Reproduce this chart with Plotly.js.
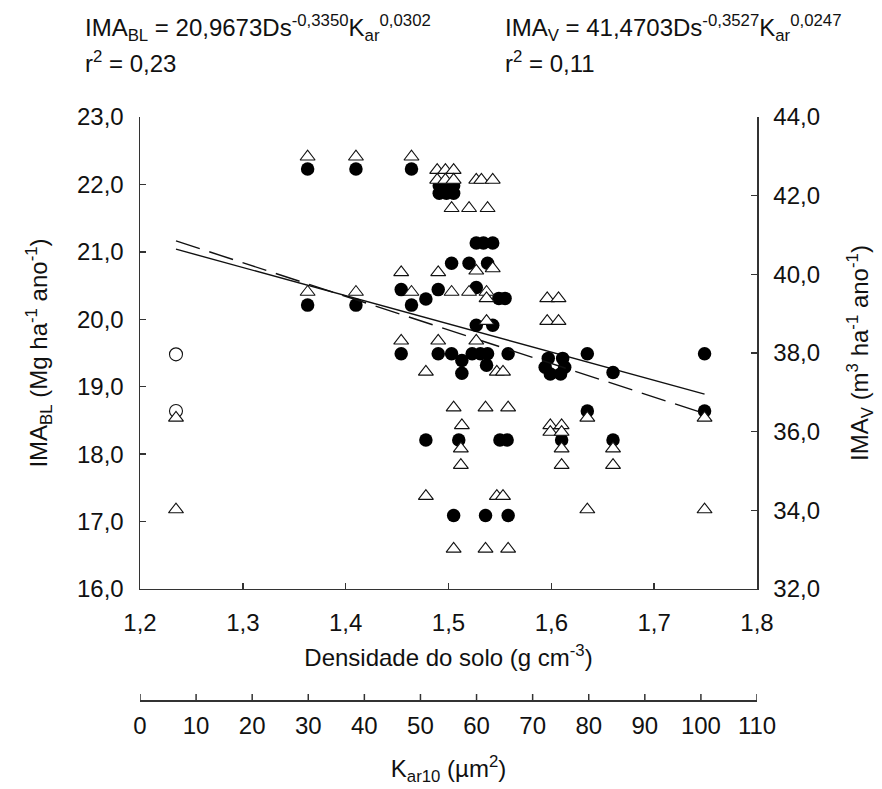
<!DOCTYPE html>
<html>
<head>
<meta charset="utf-8">
<script src="https://cdn.plot.ly/plotly-3.0.1.min.js"></script>
<style>
html,body{margin:0;padding:0;background:#ffffff;}
#chart{width:882px;height:789px;}
</style>
</head>
<body>
<div id="chart"></div>
<script>
// ---------- data ----------
// IMA_BL (Mg ha-1 ano-1), filled circles, left axis
const blDensity = [
  1.363, 1.410, 1.464,
  1.491, 1.498, 1.505, 1.491, 1.498, 1.505,
  1.503, 1.520, 1.538,
  1.527, 1.534, 1.543,
  1.454, 1.490, 1.527,
  1.478,
  1.549, 1.555,
  1.363, 1.410, 1.464,
  1.527, 1.543,
  1.454, 1.490, 1.503, 1.523, 1.531, 1.538, 1.558, 1.635, 1.749,
  1.513, 1.537, 1.513,
  1.597, 1.611, 1.594, 1.613, 1.599, 1.609,
  1.660,
  1.635, 1.749,
  1.478, 1.510, 1.550, 1.557, 1.610, 1.660,
  1.505, 1.536, 1.558
];
const blIMA = [
  22.23, 22.23, 22.23,
  21.98, 21.98, 21.98, 21.87, 21.87, 21.87,
  20.83, 20.83, 20.83,
  21.13, 21.13, 21.13,
  20.44, 20.44, 20.47,
  20.30,
  20.31, 20.31,
  20.21, 20.21, 20.21,
  19.91, 19.91,
  19.49, 19.49, 19.49, 19.49, 19.49, 19.49, 19.49, 19.49, 19.49,
  19.39, 19.32, 19.20,
  19.42, 19.42, 19.29, 19.29, 19.19, 19.19,
  19.21,
  18.64, 18.64,
  18.21, 18.21, 18.21, 18.21, 18.21, 18.21,
  17.09, 17.09, 17.09
];
// open circles (left axis)
const openDensity = [1.235, 1.235];
const openIMA = [19.48, 18.64];

// IMA_V (m3 ha-1 ano-1), open triangles, right axis
const vDensity = [
  1.363, 1.410, 1.464,
  1.489, 1.497, 1.505,
  1.489, 1.497, 1.505, 1.527, 1.532, 1.543,
  1.503, 1.520, 1.538,
  1.454, 1.490, 1.527, 1.543,
  1.363, 1.410, 1.464, 1.503, 1.520, 1.537,
  1.537, 1.596, 1.607,
  1.537, 1.596, 1.607,
  1.454, 1.490, 1.527,
  1.478, 1.547, 1.553,
  1.505, 1.536, 1.558,
  1.235, 1.635, 1.749,
  1.513, 1.599, 1.610,
  1.599, 1.610,
  1.512, 1.610, 1.660,
  1.512, 1.610, 1.660,
  1.478, 1.547, 1.553,
  1.235, 1.635, 1.749,
  1.505, 1.536, 1.558
];
const vIMA = [
  42.99, 42.99, 42.99,
  42.65, 42.65, 42.65,
  42.40, 42.40, 42.40, 42.40, 42.40, 42.40,
  41.68, 41.68, 41.68,
  40.05, 40.05, 40.09, 40.15,
  39.55, 39.55, 39.55, 39.55, 39.55, 39.55,
  39.39, 39.39, 39.39,
  38.81, 38.81, 38.81,
  38.31, 38.31, 38.31,
  37.52, 37.52, 37.52,
  36.61, 36.61, 36.61,
  36.35, 36.35, 36.35,
  36.16, 36.16, 36.16,
  35.99, 35.99,
  35.57, 35.57, 35.57,
  35.15, 35.15, 35.15,
  34.36, 34.36, 34.36,
  34.02, 34.02, 34.02,
  33.02, 33.02, 33.02
];

// fitted curves
const fitDensity = [1.235, 1.749];
const fitBL = [21.04, 18.89];
const fitV = [40.85, 36.46];

// axis ticks
const densityTicks = [1.2, 1.3, 1.4, 1.5, 1.6, 1.7, 1.8];
const karTicks = [0, 10, 20, 30, 40, 50, 60, 70, 80, 90, 100, 110];
const leftTicks = [16, 17, 18, 19, 20, 21, 22, 23];
const rightTicks = [32, 34, 36, 38, 40, 42, 44];

// text
const eqBL = 'IMA<sub>BL</sub> = 20,9673Ds<sup>-0,3350</sup>K<sub>ar</sub><sup>0,0302</sup>';
const r2BL = 'r<sup>2</sup> = 0,23';
const eqV = 'IMA<sub>V</sub> = 41,4703Ds<sup>-0,3527</sup>K<sub>ar</sub><sup>0,0247</sup>';
const r2V = 'r<sup>2</sup> = 0,11';

// ---------- chart ----------
const AX = '#333333';
const FONT = 'Liberation Sans, Arial, sans-serif';
const TXT = {family: FONT, size: 24, color: '#111'};

const traces = [
  {x: fitDensity, y: fitBL, xaxis: 'x', yaxis: 'y', mode: 'lines',
   line: {color: '#111', width: 1.4}, hoverinfo: 'skip', name: 'ajuste IMA_BL'},
  {x: fitDensity, y: fitV, xaxis: 'x', yaxis: 'y2', mode: 'lines',
   line: {color: '#111', width: 1.4, dash: '25px,10px'}, hoverinfo: 'skip', name: 'ajuste IMA_V'},
  {x: blDensity, y: blIMA, xaxis: 'x', yaxis: 'y', mode: 'markers', name: 'IMA_BL',
   marker: {symbol: 'circle', size: 13.5, color: '#000', line: {width: 0}}},
  {x: openDensity, y: openIMA, xaxis: 'x', yaxis: 'y', mode: 'markers', name: 'IMA_BL (aberto)',
   marker: {symbol: 'circle', size: 13, color: '#fff', line: {color: '#111', width: 1.1}}},
  {x: vDensity, y: vIMA, xaxis: 'x', yaxis: 'y2', mode: 'markers', name: 'IMA_V',
   marker: {symbol: 'triangle-up', size: 13, color: '#fff', line: {color: '#111', width: 1.1}}},
  {x: [karTicks[0], karTicks[karTicks.length - 1]], y: [null, null], xaxis: 'x2', yaxis: 'y',
   mode: 'markers', hoverinfo: 'skip', showlegend: false, name: 'Kar'}
];

const axisCommon = {
  showgrid: false, zeroline: false, showline: true, linecolor: AX, linewidth: 1.5,
  ticks: 'inside', ticklen: 6, tickwidth: 1.5, tickcolor: AX,
  tickfont: TXT, automargin: false
};

const layout = {
  width: 882, height: 789,
  margin: {l: 140, r: 125, t: 117, b: 89, pad: 0},
  paper_bgcolor: '#fff', plot_bgcolor: '#fff',
  separators: ', ',
  showlegend: false,
  font: TXT,
  xaxis: Object.assign({}, axisCommon, {
    range: [1.2, 1.8], tickvals: densityTicks, tickformat: '.1f', anchor: 'y',
    ticklabelstandoff: 12,
    title: {text: 'Densidade do solo (g cm<sup>-3</sup>)', font: TXT, standoff: 14}
  }),
  xaxis2: Object.assign({}, axisCommon, {
    range: [0, 110], tickvals: karTicks, tickformat: 'd', overlaying: 'x', anchor: 'free', position: 0, side: 'bottom',
    ticks: 'outside', ticklen: 0,
    ticklabelstandoff: 4,
    title: {text: 'K<sub>ar10</sub> (µm<sup>2</sup>)', font: TXT, standoff: 22}
  }),
  yaxis: Object.assign({}, axisCommon, {
    domain: [0.1904, 1], range: [16, 23], tickvals: leftTicks, tickformat: '.1f', anchor: 'x',
    ticklabelstandoff: 10,
    title: {text: 'IMA<sub>BL</sub> (Mg ha<sup>-1</sup> ano<sup>-1</sup>)', font: TXT, standoff: 22}
  }),
  yaxis2: Object.assign({}, axisCommon, {
    range: [32, 44], tickvals: rightTicks, tickformat: '.1f', overlaying: 'y', side: 'right', anchor: 'x',
    ticklabelstandoff: 10,
    title: {text: 'IMA<sub>V</sub> (m<sup>3</sup> ha<sup>-1</sup> ano<sup>-1</sup>)', font: TXT, standoff: 32}
  }),
  shapes: karTicks.map(function (k) {
    return {type: 'line', xref: 'x2', yref: 'paper', x0: k, x1: k, y0: 0, y1: 0.0103,
            line: {color: AX, width: 1.5}};
  }),
  annotations: [
    {text: eqBL, xref: 'paper', yref: 'paper', x: -0.0924, y: 1.1527, xanchor: 'left', yanchor: 'middle', showarrow: false, font: TXT},
    {text: r2BL, xref: 'paper', yref: 'paper', x: -0.0924, y: 1.094, xanchor: 'left', yanchor: 'middle', showarrow: false, font: TXT},
    {text: eqV, xref: 'paper', yref: 'paper', x: 0.588, y: 1.1527, xanchor: 'left', yanchor: 'middle', showarrow: false, font: TXT},
    {text: r2V, xref: 'paper', yref: 'paper', x: 0.588, y: 1.094, xanchor: 'left', yanchor: 'middle', showarrow: false, font: TXT}
  ]
};

Plotly.newPlot('chart', traces, layout, {displayModeBar: false, staticPlot: true});
</script>
</body>
</html>
